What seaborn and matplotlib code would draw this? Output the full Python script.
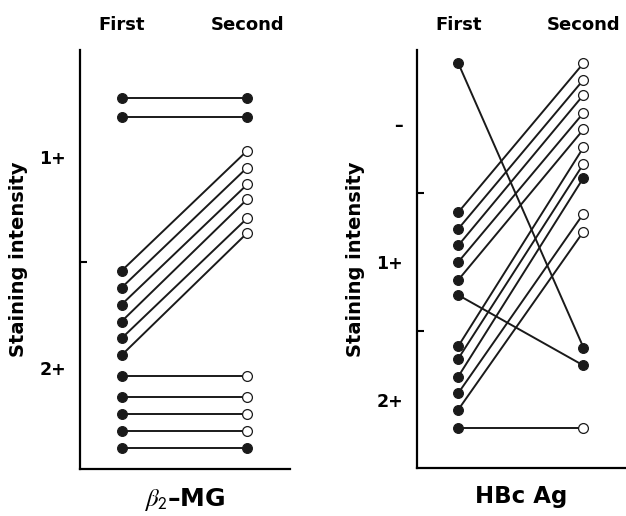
import numpy as np
import matplotlib
matplotlib.use("Agg")
import matplotlib.pyplot as plt
import matplotlib.transforms as mtransforms
import pandas as pd
import seaborn as sns

# values (0 = "-", 1 = "1+", 2 = "2+"; axis is inverted)
b2mg_first = [0.72, 0.81, 1.54, 1.62, 1.70, 1.78, 1.86, 1.94, 2.04, 2.14, 2.22, 2.30, 2.38]
b2mg_second = [0.72, 0.81, 0.97, 1.05, 1.13, 1.20, 1.29, 1.36, 2.04, 2.14, 2.22, 2.30, 2.38]
b2mg_second_filled = [1, 1, 0, 0, 0, 0, 0, 0, 0, 0, 0, 0, 1]

hbc_first = [-0.44, 0.64, 0.76, 0.88, 1.00, 1.13, 1.24, 1.61, 1.70, 1.83, 1.95, 2.07, 2.20]
hbc_second = [1.62, -0.44, -0.32, -0.21, -0.08, 0.04, 1.75, 0.17, 0.29, 0.39, 0.65, 0.78, 2.20]
hbc_second_filled = [1, 0, 0, 0, 0, 0, 1, 0, 0, 1, 0, 0, 0]

time_labels = ["First", "Second"]

b2mg_ticks = [1, 2]
b2mg_ticklabels = ["1+", "2+"]
b2mg_minor = [1.5]
hbc_ticks = [0, 1, 2]
hbc_ticklabels = ["\u2013", "1+", "2+"]
hbc_minor = [0.5, 1.5]


def to_long(first, second, second_filled):
    rows = []
    for i, (a, b, f) in enumerate(zip(first, second, second_filled)):
        rows.append({"pair": i, "time": 0, "value": a, "filled": 1})
        rows.append({"pair": i, "time": 1, "value": b, "filled": f})
    return pd.DataFrame(rows)


sns.set_theme(style="white")
plt.rcParams["font.family"] = ["DejaVu Sans"]
plt.rcParams["mathtext.fontset"] = "stix"
plt.rcParams["text.color"] = "black"
plt.rcParams["axes.labelcolor"] = "black"
plt.rcParams["ytick.color"] = "black"

fig = plt.figure(figsize=(6.26, 5.16), dpi=100)
ax1 = fig.add_axes([0.1278, 0.0911, 0.3355, 0.8120])
ax2 = fig.add_axes([0.6661, 0.0930, 0.3339, 0.8101])

panels = [
    (ax1, to_long(b2mg_first, b2mg_second, b2mg_second_filled),
     b2mg_ticks, b2mg_ticklabels, b2mg_minor, (2.479, 0.493),
     r"$\beta_{\mathsf{2}}$" + "\u2013MG", 18),
    (ax2, to_long(hbc_first, hbc_second, hbc_second_filled),
     hbc_ticks, hbc_ticklabels, hbc_minor, (2.493, -0.536), "HBc Ag", 16.5),
]

dark = "#1a1a1a"

for ax, df, ticks, ticklabels, minor, ylim, xlabel, xsize in panels:
    sns.lineplot(data=df, x="time", y="value", units="pair", estimator=None,
                 color=dark, linewidth=1.4, sort=False, legend=False, ax=ax)
    sns.scatterplot(data=df[df["filled"] == 1], x="time", y="value",
                    color=dark, edgecolor=dark, s=50, linewidth=0.8,
                    zorder=3, legend=False, ax=ax)
    sns.scatterplot(data=df[df["filled"] == 0], x="time", y="value",
                    color="white", edgecolor=dark, s=50, linewidth=0.9,
                    zorder=3, legend=False, ax=ax)

    ax.set_xlim(-0.33, 1.34)
    ax.set_ylim(*ylim)
    ax.set_xticks([])
    ax.set_yticks(ticks, ticklabels)
    ax.set_yticks(minor, minor=True)
    ax.tick_params(axis="y", which="major", length=0, pad=10,
                   labelsize=12.5)
    ax.tick_params(axis="y", which="minor", direction="in", length=5,
                   width=1.5, left=True, color="black")
    for lab in ax.get_yticklabels():
        lab.set_fontweight("bold")
    for side in ["top", "right"]:
        ax.spines[side].set_visible(False)
    for side in ["left", "bottom"]:
        ax.spines[side].set_linewidth(1.6)
        ax.spines[side].set_color("black")

    ax.set_ylabel("Staining intensity", fontsize=14, fontweight="bold",
                  labelpad=8)
    ax.set_xlabel(xlabel, fontsize=xsize, fontweight="bold", labelpad=12)

    trans = mtransforms.blended_transform_factory(ax.transData, fig.transFigure)
    for xpos, label in enumerate(time_labels):
        ax.text(xpos, 0.952, label, transform=trans, ha="center", va="center",
                fontsize=13, fontweight="bold")

fig.savefig("out.png", dpi=100)
